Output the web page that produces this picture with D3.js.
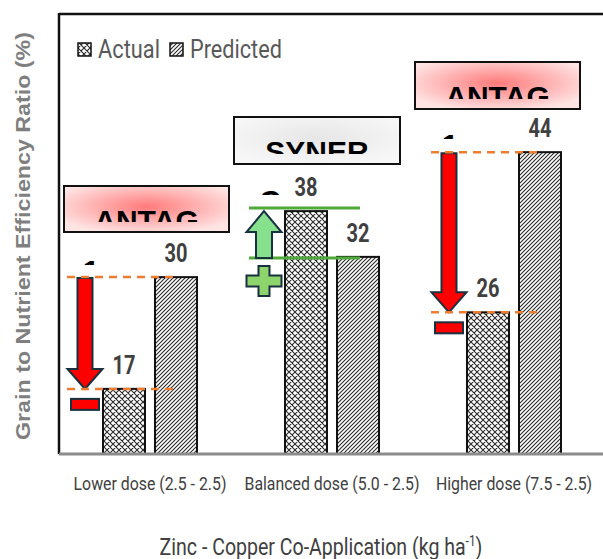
<!DOCTYPE html>
<html><head><meta charset="utf-8">
<script src="https://cdn.jsdelivr.net/npm/d3@7"></script>
<style>
html,body{margin:0;padding:0;background:#fff;}
svg{display:block;}
</style></head>
<body>
<script>
const categories = ["Lower dose (2.5 - 2.5)", "Balanced dose (5.0 - 2.5)", "Higher dose (7.5 - 2.5)"];
const series = ["Actual", "Predicted"];
const actualValues = [17.4, 37.6, 26.1];
const predictedValues = [30.1, 32.4, 44.3];
const effectLabels = ["ANTAG", "SYNER", "ANTAG"];
const yDomain = [10, 60];
const yTitle = "Grain to Nutrient Efficiency Ratio (%)";
const xTitle = "Zinc - Copper Co-Application (kg ha";

const W = 603, H = 559;
const svg = d3.select("body").append("svg").attr("width", W).attr("height", H);
const defs = svg.append("defs");

const narrow = "Roboto,'Liberation Sans',sans-serif";
const arial = "'Liberation Sans',Arial,sans-serif";

// condensed-text helper: horizontally scale a text node to a target width
function condense(textSel, cx, cy, target){
  const node = textSel.node();
  const w = node.getComputedTextLength();
  const f = target / w;
  textSel.attr("x",0).attr("y",0).attr("transform",`translate(${cx},${cy}) scale(${f},1)`);
  return f;
}

// patterns
const pA = defs.append("pattern").attr("id","patA").attr("patternUnits","userSpaceOnUse").attr("width",6).attr("height",6);
pA.append("rect").attr("width",6).attr("height",6).attr("fill","#fff");
pA.append("path").attr("d","M0,0 L6,6 M6,0 L0,6 M-1,5 L1,7 M5,-1 L7,1 M-1,1 L1,-1 M5,7 L7,5").attr("stroke","#2a2a2a").attr("stroke-width",1.1);
const pP = defs.append("pattern").attr("id","patP").attr("patternUnits","userSpaceOnUse").attr("width",4).attr("height",4);
pP.append("rect").attr("width",4).attr("height",4).attr("fill","#fff");
pP.append("path").attr("d","M-1,1 L1,-1 M0,4 L4,0 M3,5 L5,3").attr("stroke","#2a2a2a").attr("stroke-width",1.1);

const gRed = defs.append("radialGradient").attr("id","gRed").attr("cx","50%").attr("cy","45%").attr("r","60%");
gRed.append("stop").attr("offset","0%").attr("stop-color","#ff7a7a");
gRed.append("stop").attr("offset","100%").attr("stop-color","#ffe4e4");
const gGray = defs.append("radialGradient").attr("id","gGray").attr("cx","50%").attr("cy","45%").attr("r","60%");
gGray.append("stop").attr("offset","0%").attr("stop-color","#e6e6e6");
gGray.append("stop").attr("offset","100%").attr("stop-color","#f7f7f7");

const x0 = d3.scaleBand().domain(categories).range([59, 605]).paddingInner(0).paddingOuter(0);
const x1 = d3.scaleBand().domain(series).range([0, x0.bandwidth()]).paddingInner(0.1923).paddingOuter(0.846);
const y = d3.scaleLinear().domain(yDomain).range([454, 14]);

const data = categories.map((c,i)=>({cat:c, Actual:actualValues[i], Predicted:predictedValues[i], effect:effectLabels[i]}));

// frame
svg.append("line").attr("x1",59).attr("x2",603).attr("y1",14).attr("y2",14).attr("stroke","#111").attr("stroke-width",2.5);
svg.append("line").attr("x1",59).attr("x2",59).attr("y1",13).attr("y2",454).attr("stroke","#111").attr("stroke-width",2.5);

// bars
const groups = svg.append("g").selectAll("g").data(data).join("g").attr("transform", d=>`translate(${x0(d.cat)},0)`);
groups.selectAll("rect").data(d=>series.map(s=>({s, v:d[s]}))).join("rect")
  .attr("x", d=>x1(d.s)).attr("width", x1.bandwidth())
  .attr("y", d=>y(d.v)).attr("height", d=>y(yDomain[0])-y(d.v))
  .attr("fill", d=>d.s==="Actual"?"url(#patA)":"url(#patP)")
  .attr("stroke","#111").attr("stroke-width",2);
groups.selectAll("text.val").data(d=>series.map(s=>({s, v:d[s]}))).join("text").attr("class","val")
  .attr("text-anchor","middle").attr("font-family",narrow).attr("font-weight","bold")
  .attr("font-size",25).attr("fill","#404040").text(d=>d3.format(".0f")(d.v))
  .each(function(d){ condense(d3.select(this), x1(d.s)+x1.bandwidth()/2, y(d.v)-15, 23); });

// baseline
svg.append("line").attr("x1",59).attr("x2",603).attr("y1",454).attr("y2",454).attr("stroke","#8c8c8c").attr("stroke-width",3);

// x axis labels
const xAxis = d3.axisBottom(x0).tickSize(0).tickPadding(0);
const xg = svg.append("g").attr("transform","translate(0,454)").call(xAxis);
xg.select(".domain").remove();
const tickTexts = xg.selectAll("text").attr("dy",0).attr("font-family",narrow).attr("font-size",18).attr("fill","#404040");
const f0 = 153 / tickTexts.nodes()[0].getComputedTextLength();
tickTexts.attr("x",0).attr("y",0).attr("transform",`translate(0,36) scale(${f0},1)`);

// titles
svg.append("text").attr("transform","translate(30,236) rotate(-90)").attr("text-anchor","middle")
  .attr("font-family",arial).attr("font-weight","bold").attr("font-size",21).attr("fill","#7f7f7f")
  .attr("textLength",408).attr("lengthAdjust","spacingAndGlyphs").text(yTitle);
const xt = svg.append("text").attr("text-anchor","middle")
  .attr("font-family",narrow).attr("font-size",23).attr("fill","#404040");
xt.append("tspan").text(xTitle);
xt.append("tspan").attr("dy",-9).attr("font-size",14).text("-1");
xt.append("tspan").attr("dy",9).text(")");
{
  const bb = xt.node().getBBox();
  const f = 323 / bb.width;
  xt.attr("transform",`translate(321,555) scale(${f},1)`);
}

// legend
const leg = svg.append("g");
const legItems = [{s:"Actual", x:78, tx:98, w:62}, {s:"Predicted", x:170, tx:190, w:92}];
legItems.forEach(it=>{
  leg.append("rect").attr("x",it.x).attr("y",43).attr("width",13).attr("height",13)
    .attr("fill", it.s==="Actual"?"url(#patA)":"url(#patP)").attr("stroke","#111").attr("stroke-width",1.5);
  const t = leg.append("text").attr("font-family",narrow).attr("font-size",25).attr("fill","#595959").text(it.s);
  condense(t, it.tx, 58, it.w);
});

// annotation boxes
const boxes = [
  {i:0, x:64, y:186, w:165, h:46, fill:"url(#gRed)", frag:"1", fx:91, fy:259},
  {i:1, x:234, y:117, w:166, h:47, fill:"url(#gGray)", frag:"C", fx:270, fy:189},
  {i:2, x:415, y:62, w:165, h:47, fill:"url(#gRed)", frag:"1", fx:450, fy:133}
];
boxes.forEach((b,k)=>{
  svg.append("rect").attr("x",b.x).attr("y",b.y).attr("width",b.w).attr("height",b.h)
    .attr("fill",b.fill).attr("stroke","#111").attr("stroke-width",2);
  const cid = "clip"+k;
  defs.append("clipPath").attr("id",cid).append("rect").attr("x",b.x).attr("y",b.y).attr("width",b.w).attr("height",b.h-10);
  svg.append("text").attr("clip-path",`url(#${cid})`).attr("x",b.x+b.w/2).attr("y",b.y+23+21.5)
    .attr("text-anchor","middle").attr("font-family",arial).attr("font-weight","bold").attr("font-size",30)
    .attr("fill","#000").text(data[b.i].effect);
  const fid = "fclip"+k;
  defs.append("clipPath").attr("id",fid).append("rect").attr("x",b.fx-15).attr("y",b.fy-2).attr("width",30).attr("height",8);
  svg.append("text").attr("clip-path",`url(#${fid})`).attr("x",b.fx).attr("y",b.fy+21.5)
    .attr("text-anchor","middle").attr("font-family",arial).attr("font-weight","bold").attr("font-size",30)
    .attr("fill","#000").text(b.frag);
});

// helpers
function downArrow(cx, y1, y2){
  const sw=7.5, hw=17.5, hl=20;
  return `M${cx-sw},${y1} L${cx+sw},${y1} L${cx+sw},${y2-hl} L${cx+hw},${y2-hl} L${cx},${y2} L${cx-hw},${y2-hl} L${cx-sw},${y2-hl} Z`;
}
function upArrow(cx, y1, y2){
  const sw=8, hw=17.5, hl=21;
  return `M${cx},${y1} L${cx+hw},${y1+hl} L${cx+sw},${y1+hl} L${cx+sw},${y2} L${cx-sw},${y2} L${cx-sw},${y1+hl} L${cx-hw},${y1+hl} Z`;
}
const navy = "#18303f";
const ann = svg.append("g");

// antagonism annotations (lower and higher)
[0,2].forEach(i=>{
  const d = data[i];
  const ax = x0(d.cat) + x1("Actual") - 18;
  const yP = y(d.Predicted), yA = y(d.Actual);
  ann.append("path").attr("d", downArrow(ax, yP+1, yA)).attr("fill","#ff0000").attr("stroke",navy).attr("stroke-width",2).attr("stroke-linejoin","miter");
  [yP, yA].forEach(yy=>{
    ann.append("line").attr("x1",ax-18).attr("x2",ax+93).attr("y1",yy).attr("y2",yy)
      .attr("stroke","#ed7d31").attr("stroke-width",2.5).attr("stroke-dasharray","8,6");
  });
  ann.append("rect").attr("x",ax-14).attr("y",yA+10).attr("width",28).attr("height",11)
    .attr("fill","#ff0000").attr("stroke",navy).attr("stroke-width",2);
});

// synergism annotation (balanced)
{
  const d = data[1];
  const gx = x0(d.cat) + x1("Actual") - 21;
  const yA = y(d.Actual), yP = y(d.Predicted);
  [yA-3, yP+1].forEach(yy=>{
    ann.append("line").attr("x1",gx-15).attr("x2",gx+96).attr("y1",yy).attr("y2",yy)
      .attr("stroke","#4faa3a").attr("stroke-width",3);
  });
  ann.append("path").attr("d", upArrow(gx, yA, yP+1)).attr("fill","#86e08c").attr("stroke",navy).attr("stroke-width",2);
  const pc = yP+24, arm=17.5, t=5.5;
  ann.append("path").attr("d",`M${gx-t},${pc-15} L${gx+t},${pc-15} L${gx+t},${pc-t} L${gx+arm},${pc-t} L${gx+arm},${pc+t} L${gx+t},${pc+t} L${gx+t},${pc+15} L${gx-t},${pc+15} L${gx-t},${pc+t} L${gx-arm},${pc+t} L${gx-arm},${pc-t} L${gx-t},${pc-t} Z`)
    .attr("fill","#8ed46c").attr("stroke",navy).attr("stroke-width",2);
}
</script>
</body></html>
